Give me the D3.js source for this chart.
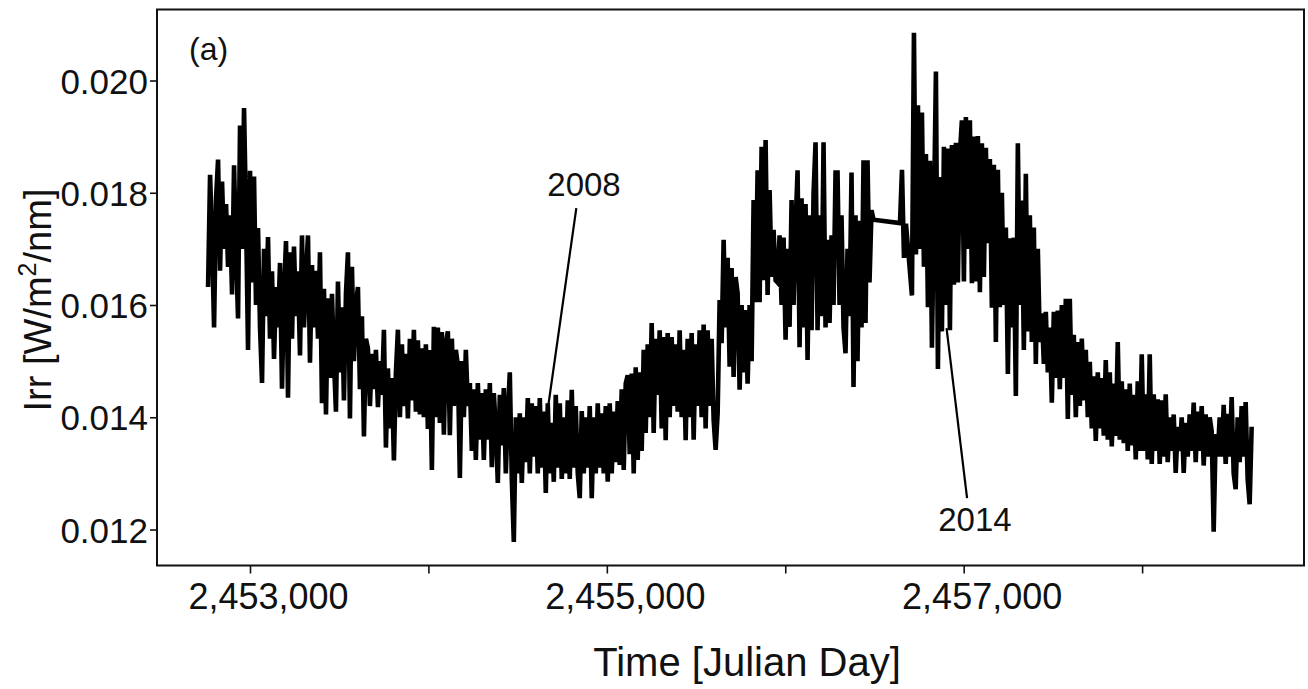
<!DOCTYPE html>
<html>
<head>
<meta charset="utf-8">
<script src="https://cdn.jsdelivr.net/npm/d3@7"></script>
<style>
  html, body { margin: 0; padding: 0; background: #fff; }
  svg { display: block; font-family: "Liberation Sans", Arial, Helvetica, sans-serif; }
</style>
</head>
<body>
<svg id="chart" width="1308" height="689"></svg>
<script>
// Spectral irradiance time series, sampled every 11.2 days.
// Each segment starts at its own Julian Day; segments are joined by straight lines.
const sampleStep = 11.2;
const segmentStarts = [2452765, 2456643, 2456710];

const irradianceA = [
  0.01632, 0.01832, 0.01720, 0.01560, 0.01790,
  0.01859, 0.01661, 0.01820, 0.01700, 0.01780,
  0.01668, 0.01760, 0.01619, 0.01849, 0.01700,
  0.01576, 0.01920, 0.01700, 0.01951, 0.01760,
  0.01520, 0.01839, 0.01640, 0.01829, 0.01600,
  0.01737, 0.01560, 0.01461, 0.01700, 0.01580,
  0.01721, 0.01540, 0.01660, 0.01504, 0.01632,
  0.01560, 0.01675, 0.01451, 0.01620, 0.01714,
  0.01435, 0.01694, 0.01540, 0.01704, 0.01580,
  0.01660, 0.01510, 0.01724, 0.01560, 0.01650,
  0.01724, 0.01497, 0.01671, 0.01560, 0.01661,
  0.01540, 0.01694, 0.01425, 0.01629, 0.01405,
  0.01612, 0.01470, 0.01620, 0.01500, 0.01410,
  0.01642, 0.01480, 0.01596, 0.01430, 0.01620,
  0.01694, 0.01398, 0.01668, 0.01500, 0.01600,
  0.01632, 0.01450, 0.01580, 0.01366, 0.01540,
  0.01523, 0.01420, 0.01513, 0.01450, 0.01520,
  0.01418, 0.01500, 0.01440, 0.01556, 0.01346,
  0.01487, 0.01380, 0.01470, 0.01323, 0.01480,
  0.01556, 0.01400, 0.01530, 0.01420, 0.01513,
  0.01398, 0.01540, 0.01430, 0.01556, 0.01410,
  0.01537, 0.01405, 0.01523, 0.01400, 0.01530,
  0.01379, 0.01520, 0.01306, 0.01561, 0.01400,
  0.01560, 0.01390, 0.01552, 0.01369, 0.01532,
  0.01553, 0.01368, 0.01540, 0.01420, 0.01520,
  0.01493, 0.01292, 0.01500, 0.01400, 0.01520,
  0.01420, 0.01461, 0.01340, 0.01450, 0.01324,
  0.01461, 0.01360, 0.01443, 0.01324, 0.01450,
  0.01360, 0.01461, 0.01311, 0.01443, 0.01380,
  0.01283, 0.01440, 0.01350, 0.01452, 0.01300,
  0.01407, 0.01480, 0.01290, 0.01178, 0.01400,
  0.01300, 0.01407, 0.01283, 0.01400, 0.01320,
  0.01434, 0.01300, 0.01425, 0.01330, 0.01420,
  0.01300, 0.01434, 0.01310, 0.01410, 0.01265,
  0.01425, 0.01300, 0.01390, 0.01285, 0.01440,
  0.01310, 0.01425, 0.01290, 0.01400, 0.01300,
  0.01430, 0.01290, 0.01449, 0.01310, 0.01420,
  0.01300, 0.01256, 0.01411, 0.01300, 0.01400,
  0.01310, 0.01420, 0.01256, 0.01400, 0.01300,
  0.01425, 0.01310, 0.01407, 0.01300, 0.01420,
  0.01285, 0.01425, 0.01300, 0.01410, 0.01320,
  0.01429, 0.01315, 0.01450, 0.01306, 0.01460,
  0.01475, 0.01334, 0.01478, 0.01300, 0.01489,
  0.01324, 0.01480, 0.01340, 0.01520, 0.01372,
  0.01530, 0.01400, 0.01568, 0.01372, 0.01540,
  0.01440, 0.01555, 0.01380, 0.01543, 0.01359,
  0.01550, 0.01400, 0.01543, 0.01420, 0.01530,
  0.01410, 0.01555, 0.01400, 0.01520, 0.01359,
  0.01540, 0.01400, 0.01550, 0.01360, 0.01530,
  0.01420, 0.01555, 0.01400, 0.01565, 0.01380,
  0.01555, 0.01420, 0.01540, 0.01395, 0.01342,
  0.01407, 0.01609, 0.01532, 0.01716, 0.01560,
  0.01684, 0.01490, 0.01666, 0.01472, 0.01650,
  0.01621, 0.01449, 0.01600, 0.01480, 0.01591,
  0.01460, 0.01600, 0.01500, 0.01787, 0.01605,
  0.01840, 0.01605, 0.01882, 0.01644, 0.01894,
  0.01618, 0.01805, 0.01650, 0.01734, 0.01644,
  0.01640, 0.01724, 0.01600, 0.01720, 0.01538,
  0.01700, 0.01561, 0.01787, 0.01600, 0.01740,
  0.01840, 0.01525, 0.01790, 0.01560, 0.01780,
  0.01502, 0.01760, 0.01555, 0.01800, 0.01890,
  0.01555, 0.01760, 0.01580, 0.01890, 0.01560,
  0.01716, 0.01568, 0.01724, 0.01600, 0.01836,
  0.01836, 0.01600, 0.01760, 0.01560, 0.01514,
  0.01700, 0.01580, 0.01836, 0.01454, 0.01760,
  0.01500, 0.01750, 0.01560, 0.01858, 0.01568,
  0.01858, 0.01640, 0.01769, 0.01752
];

const irradianceB = [0.01746, 0.01841, 0.01684, 0.01745];

const irradianceC = [
  0.01617, 0.02085, 0.01690, 0.01956, 0.01700,
  0.01943, 0.01668, 0.01869, 0.01596, 0.01857,
  0.01524, 0.01760, 0.02016, 0.01486, 0.01828,
  0.01553, 0.01882, 0.01600, 0.01879, 0.01555,
  0.01885, 0.01636, 0.01889, 0.01640, 0.01870,
  0.01929, 0.01642, 0.01935, 0.01700, 0.01929,
  0.01639, 0.01900, 0.01642, 0.01901, 0.01623,
  0.01888, 0.01650, 0.01880, 0.01710, 0.01860,
  0.01595, 0.01850, 0.01534, 0.01841, 0.01596,
  0.01800, 0.01600, 0.01738, 0.01477, 0.01719,
  0.01560, 0.01720, 0.01438, 0.01888, 0.01600,
  0.01786, 0.01520, 0.01834, 0.01553, 0.01760,
  0.01534, 0.01738, 0.01495, 0.01700, 0.01534,
  0.01585, 0.01495, 0.01588, 0.01480, 0.01560,
  0.01426, 0.01588, 0.01470, 0.01590, 0.01450,
  0.01600, 0.01470, 0.01611, 0.01397, 0.01611,
  0.01440, 0.01547, 0.01400, 0.01534, 0.01420,
  0.01540, 0.01430, 0.01520, 0.01400, 0.01499,
  0.01380, 0.01473, 0.01358, 0.01480, 0.01380,
  0.01470, 0.01367, 0.01502, 0.01360, 0.01480,
  0.01348, 0.01460, 0.01367, 0.01534, 0.01360,
  0.01464, 0.01354, 0.01450, 0.01340, 0.01460,
  0.01350, 0.01440, 0.01325, 0.01464, 0.01340,
  0.01512, 0.01340, 0.01441, 0.01325, 0.01512,
  0.01317, 0.01441, 0.01340, 0.01432, 0.01317,
  0.01430, 0.01330, 0.01441, 0.01320, 0.01400,
  0.01340, 0.01405, 0.01301, 0.01383, 0.01340,
  0.01400, 0.01301, 0.01390, 0.01330, 0.01405,
  0.01340, 0.01426, 0.01320, 0.01410, 0.01340,
  0.01420, 0.01314, 0.01405, 0.01330, 0.01400,
  0.01375, 0.01196, 0.01370, 0.01330, 0.01400,
  0.01330, 0.01422, 0.01317, 0.01406, 0.01330,
  0.01436, 0.01300, 0.01272, 0.01400, 0.01320,
  0.01420, 0.01330, 0.01427, 0.01290, 0.01245,
  0.01383
];

// Axis ticks
const yTickValues = [0.012, 0.014, 0.016, 0.018, 0.020];
const xTickValues = [2453000, 2454000, 2455000, 2456000, 2457000, 2458000];
const xLabelledTicks = [2453000, 2455000, 2457000];

// Year callouts: text anchor and leader line, in (Julian Day, irradiance)
const calloutLabels = ["2008", "2014"];
const calloutText = [[2454872, 0.017942], [2457063, 0.011973]];
const calloutFrom = [[2454829, 0.017727], [2456904, 0.015590]];
const calloutTo = [[2454666, 0.014076], [2457019, 0.012561]];

// ---- layout ----
const plot = { left: 157, right: 1304, top: 9.5, bottom: 565.5 };

const svg = d3.select("#chart");

const x = d3.scaleLinear()
  .domain([2452478.8, 2458907.4])
  .range([plot.left, plot.right]);

const y = d3.scaleLinear()
  .domain([0.011359, 0.021265])
  .range([plot.bottom, plot.top]);

// Build the (day, value) series from the segments
const segments = [irradianceA, irradianceB, irradianceC];
const series = [];
segments.forEach((vals, s) => {
  vals.forEach((v, i) => series.push({ day: segmentStarts[s] + i * sampleStep, value: v }));
});

// Irradiance trace
const line = d3.line().x(d => x(d.day)).y(d => y(d.value));
svg.append("path")
  .datum(series)
  .attr("d", line)
  .attr("fill", "none")
  .attr("stroke", "#000")
  .attr("stroke-width", 4.6)
  .attr("stroke-linejoin", "miter");

// Frame
svg.append("rect")
  .attr("x", plot.left).attr("y", plot.top)
  .attr("width", plot.right - plot.left)
  .attr("height", plot.bottom - plot.top)
  .attr("fill", "none")
  .attr("stroke", "#111")
  .attr("stroke-width", 2);

// Left axis
const yAxis = d3.axisLeft(y)
  .tickValues(yTickValues)
  .tickSize(7)
  .tickPadding(2)
  .tickFormat(d3.format(".3f"));
const gy = svg.append("g")
  .attr("transform", `translate(${plot.left},0)`)
  .call(yAxis);
gy.select(".domain").remove();
gy.selectAll(".tick line").attr("stroke", "#111").attr("stroke-width", 1.6);
gy.selectAll(".tick text")
  .attr("fill", "#111")
  .style("font-size", "35px")
  .attr("dy", "0.36em");

// Bottom axis
const fmtX = d3.format(",");
const xAxis = d3.axisBottom(x)
  .tickValues(xTickValues)
  .tickSize(8)
  .tickPadding(10)
  .tickFormat(d => xLabelledTicks.includes(d) ? fmtX(d) : "");
const gx = svg.append("g")
  .attr("transform", `translate(0,${plot.bottom})`)
  .call(xAxis);
gx.select(".domain").remove();
gx.selectAll(".tick line").attr("stroke", "#111").attr("stroke-width", 1.6);
gx.selectAll(".tick text")
  .attr("fill", "#111")
  .style("font-size", "36px")
  .attr("dx", 18)
  .attr("dy", "0.71em");

// Axis titles
svg.append("text")
  .attr("x", 747)
  .attr("y", 676)
  .attr("text-anchor", "middle")
  .attr("fill", "#111")
  .style("font-size", "40px")
  .text("Time [Julian Day]");

const yTitle = svg.append("text")
  .attr("transform", "translate(51,300) rotate(-90)")
  .attr("text-anchor", "middle")
  .attr("fill", "#111")
  .style("font-size", "38px");
yTitle.append("tspan").text("Irr [W/m");
yTitle.append("tspan").attr("dy", -15).style("font-size", "25px").text("2");
yTitle.append("tspan").attr("dy", 15).text("/nm]");

// Panel tag
svg.append("text")
  .attr("x", 189).attr("y", 60)
  .attr("fill", "#111")
  .style("font-size", "32px")
  .text("(a)");

// Year callouts
calloutLabels.forEach((lab, i) => {
  svg.append("line")
    .attr("x1", x(calloutFrom[i][0])).attr("y1", y(calloutFrom[i][1]))
    .attr("x2", x(calloutTo[i][0])).attr("y2", y(calloutTo[i][1]))
    .attr("stroke", "#000")
    .attr("stroke-width", 2.2);
  svg.append("text")
    .attr("x", x(calloutText[i][0])).attr("y", y(calloutText[i][1]))
    .attr("text-anchor", "middle")
    .attr("fill", "#111")
    .style("font-size", "33px")
    .text(lab);
});
</script>
</body>
</html>
